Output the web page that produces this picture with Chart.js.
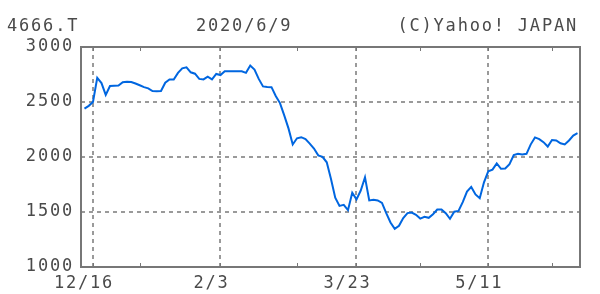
<!DOCTYPE html>
<html>
<head>
<meta charset="utf-8">
<script src="https://cdn.jsdelivr.net/npm/chart.js@4"></script>
<style>
  body { margin: 0; background: #fff; }
</style>
</head>
<body>
<canvas id="chart" width="600" height="294"></canvas>
<script>
// trading days, 2019/12/12 - 2020/6/9
const dates = [
  "12/12", "12/13", "12/16", "12/17", "12/18", "12/19", "12/20", "12/23", "12/24", "12/25", "12/26", "12/27", "12/30",
  "1/6", "1/7", "1/8", "1/9", "1/10", "1/14", "1/15", "1/16", "1/17", "1/20", "1/21", "1/22", "1/23", "1/24",
  "1/27", "1/28", "1/29", "1/30", "1/31",
  "2/3", "2/4", "2/5", "2/6", "2/7", "2/10", "2/12", "2/13", "2/14", "2/17", "2/18", "2/19", "2/20", "2/21",
  "2/25", "2/26", "2/27", "2/28",
  "3/2", "3/3", "3/4", "3/5", "3/6", "3/9", "3/10", "3/11", "3/12", "3/13", "3/16", "3/17", "3/18", "3/19",
  "3/23", "3/24", "3/25", "3/26", "3/27", "3/30", "3/31",
  "4/1", "4/2", "4/3", "4/6", "4/7", "4/8", "4/9", "4/10", "4/13", "4/14", "4/15", "4/16", "4/17",
  "4/20", "4/21", "4/22", "4/23", "4/24", "4/27", "4/28", "4/30",
  "5/1", "5/7", "5/8", "5/11", "5/12", "5/13", "5/14", "5/15", "5/18", "5/19", "5/20", "5/21", "5/22",
  "5/25", "5/26", "5/27", "5/28", "5/29",
  "6/1", "6/2", "6/3", "6/4", "6/5", "6/8", "6/9",
];

// closing prices
const prices = [
  2440, 2465, 2500, 2720, 2672, 2565, 2645, 2648, 2650, 2680, 2685, 2682, 2668,
  2652, 2635, 2624, 2600, 2597, 2600, 2675, 2704, 2704, 2765, 2806, 2815, 2770, 2757,
  2710, 2705, 2730, 2706, 2755,
  2745, 2780, 2780, 2780, 2780, 2780, 2765, 2832, 2795, 2710, 2642, 2637, 2635, 2555,
  2490, 2378, 2260, 2114,
  2170, 2180, 2162, 2122, 2077, 2015, 2002, 1952, 1800, 1630, 1555, 1565, 1517, 1675,
  1615, 1695, 1816, 1605, 1611, 1605, 1583,
  1490, 1405, 1347, 1375, 1445, 1490, 1495, 1475, 1440, 1457, 1447, 1480, 1523, 1523,
  1489, 1438, 1503, 1510, 1590, 1685, 1728,
  1660, 1625, 1770, 1870, 1885, 1942, 1893, 1895, 1935, 2017, 2029, 2022, 2029,
  2115, 2178, 2163, 2135, 2095,
  2155, 2150, 2125, 2114, 2150, 2195, 2216,
];

const majorDates = ["12/16", "2/3", "3/23", "5/11"];
const minorDates = ["1/6", "3/2", "4/13", "6/1"];
const yTicks = [1000, 1500, 2000, 2500, 3000];

const FONT = '"DejaVu Sans Mono", monospace';
const TEXT = "#4a4a4a";

// white background, letter spacing, frame, inner tick marks and the header texts
const framePlugin = {
  id: "frame",
  beforeDraw(chart) {
    const ctx = chart.ctx;
    ctx.letterSpacing = "1.8px";
    ctx.save();
    ctx.fillStyle = "#fff";
    ctx.fillRect(0, 0, chart.width, chart.height);
    ctx.restore();
  },
  afterDraw(chart) {
    const { ctx, chartArea: a, scales } = chart;
    ctx.save();
    ctx.strokeStyle = "#777";
    ctx.lineWidth = 2;
    ctx.strokeRect(a.left, a.top, a.right - a.left, a.bottom - a.top);

    ctx.lineWidth = 1;
    majorDates.concat(minorDates).forEach((d) => {
      const px = Math.round(scales.x.getPixelForValue(dates.indexOf(d))) + 0.5;
      ctx.beginPath();
      ctx.moveTo(px, a.top);
      ctx.lineTo(px, a.top + 4);
      ctx.moveTo(px, a.bottom);
      ctx.lineTo(px, a.bottom - 4);
      ctx.stroke();
    });

    ctx.font = "17px " + FONT;
    ctx.fillStyle = TEXT;
    ctx.textBaseline = "alphabetic";
    ctx.textAlign = "left";
    ctx.fillText("4666.T", 7, 31);
    ctx.fillText("2020/6/9", 196, 31);
    ctx.textAlign = "right";
    ctx.fillText("(C)Yahoo! JAPAN", 578, 31);
    ctx.restore();
  },
};

new Chart(document.getElementById("chart"), {
  type: "line",
  data: {
    datasets: [
      {
        data: prices.map((p, i) => ({ x: i, y: p })),
        borderColor: "#0066e0",
        borderWidth: 2,
        pointRadius: 0,
        tension: 0,
      },
    ],
  },
  options: {
    responsive: false,
    animation: false,
    events: [],
    layout: { padding: { left: 0, top: 47, right: 20, bottom: 0 } },
    plugins: { legend: { display: false }, tooltip: { enabled: false } },
    scales: {
      x: {
        type: "linear",
        min: -0.82,
        max: 116.59,
        afterFit: (scale) => { scale.height = 27; },
        afterBuildTicks: (scale) => {
          scale.ticks = majorDates.concat(minorDates).map((d) => ({ value: dates.indexOf(d) }));
        },
        border: { display: false, dash: [4, 4] },
        grid: {
          drawTicks: false,
          lineWidth: 2,
          color: (c) => (c.tick && majorDates.includes(dates[c.tick.value]) ? "#9a9a9a" : "rgba(0,0,0,0)"),
        },
        ticks: {
          autoSkip: false,
          maxRotation: 0,
          padding: 6,
          labelOffset: -9,
          color: TEXT,
          font: { family: FONT, size: 17 },
          callback: (v) => (majorDates.includes(dates[v]) ? dates[v] : ""),
        },
      },
      y: {
        min: 1000,
        max: 3000,
        afterFit: (scale) => { scale.width = 81; },
        afterBuildTicks: (scale) => {
          scale.ticks = yTicks.map((v) => ({ value: v }));
        },
        border: { display: false, dash: [4, 4] },
        grid: { drawTicks: false, lineWidth: 2, color: "#9a9a9a" },
        ticks: {
          padding: 7,
          color: TEXT,
          font: { family: FONT, size: 17 },
          callback: (v) => String(v),
        },
      },
    },
  },
  plugins: [framePlugin],
});
</script>
</body>
</html>
